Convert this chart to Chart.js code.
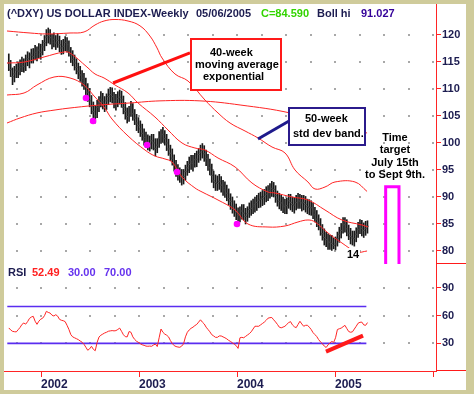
<!DOCTYPE html>
<html>
<head>
<meta charset="utf-8">
<script src="https://cdn.jsdelivr.net/npm/chart.js@4.4.0/dist/chart.umd.min.js"></script>
<style>
body { margin: 0; width: 474px; height: 394px; overflow: hidden; position: relative; background: #cfcb9b;
       font-family: "Liberation Sans", Arial, sans-serif; font-weight: bold; font-size: 11px; color: #1c1c50; }
#panel { position: absolute; left: 4px; top: 4px; width: 462px; height: 386px; background: #fff; }
canvas { position: absolute; left: 4px; }
.t { position: absolute; white-space: nowrap; line-height: 12px; }
.box { position: absolute; box-sizing: border-box; background: #fff; }
.rule { position: absolute; background: #ff1a1a; }
</style>
</head>
<body>
<div id="panel"></div>
<canvas id="price" width="462" height="260" style="top:4px"></canvas>
<canvas id="rsi" width="462" height="126" style="top:264px"></canvas>

<div class="rule" style="left:436px;top:263px;width:30px;height:1px"></div>
<div class="rule" style="left:436px;top:370px;width:30px;height:1px"></div>

<div class="t" style="left:7px;top:7px">(^DXY) US DOLLAR INDEX-Weekly</div>
<div class="t" style="left:196px;top:7px">05/06/2005</div>
<div class="t" style="left:261px;top:7px;color:#33d400">C=84.590</div>
<div class="t" style="left:317px;top:7px">Boll hi</div>
<div class="t" style="left:361px;top:7px;color:#330099">91.027</div>

<div class="box" style="left:190px;top:38px;width:92px;height:53px;border:2px solid #ff1a1a"></div>
<div class="t" style="left:210px;top:46px;color:#000">40-week</div>
<div class="t" style="left:195px;top:58px;color:#000">moving average</div>
<div class="t" style="left:203px;top:70px;color:#000">exponential</div>

<div class="box" style="left:288px;top:107px;width:78px;height:39px;border:2px solid #2b1b8c"></div>
<div class="t" style="left:305px;top:112px;color:#000">50-week</div>
<div class="t" style="left:293px;top:127px;color:#000">std dev band.</div>

<div class="t" style="left:355px;top:131px;width:80px;text-align:center;line-height:12.3px;color:#000">Time<br>target<br>July 15th<br>to Sept 9th.</div>

<div class="t" style="left:346px;top:248px;padding:0 1px;background:#fff;color:#000">14</div>

<div class="t" style="left:8px;top:266px">RSI</div>
<div class="t" style="left:32px;top:266px;color:#ff2020">52.49</div>
<div class="t" style="left:68px;top:266px;color:#6633ee">30.00</div>
<div class="t" style="left:104px;top:266px;color:#6633ee">70.00</div>

<script>
// weekly bars from the week of Sep 3 2001 to May 6 2005
var barHigh = [
  116.5,115.3,113.9,114.2,114.6,115.0,115.4,115.9,115.6,116.3,
  116.9,116.7,117.4,117.5,118.1,117.8,118.4,118.3,119.0,119.9,
  121.0,121.3,121.0,120.1,120.4,119.9,120.3,119.8,119.0,119.2,
  119.7,119.5,118.9,117.7,117.1,116.3,115.6,114.8,114.2,113.4,
  112.9,112.0,111.0,110.1,108.8,107.6,106.9,107.9,108.6,109.5,
  109.2,108.6,109.1,110.0,110.3,110.2,109.4,109.0,109.5,109.8,
  109.6,108.7,107.5,106.5,106.8,107.7,107.3,106.2,105.3,104.7,
  104.1,103.5,102.6,102.0,101.5,101.3,101.6,101.6,100.8,100.8,
  102.1,102.5,102.9,102.3,101.6,100.7,99.6,98.9,97.8,96.8,
  96.0,95.4,95.1,95.1,95.9,96.6,97.4,97.7,97.7,98.1,
  98.5,99.0,99.6,99.9,99.5,98.7,97.9,97.0,96.1,94.8,
  94.1,93.9,94.2,93.8,93.1,92.8,92.2,91.5,90.6,90.0,
  89.3,88.7,88.0,88.2,88.6,88.6,87.9,88.2,88.9,89.3,
  89.6,90.0,90.3,90.7,90.9,91.2,91.4,91.9,92.1,92.5,
  92.9,92.7,92.1,91.1,90.7,90.3,90.0,89.6,89.8,90.5,
  90.5,90.0,89.9,90.3,90.7,90.5,90.3,90.3,90.1,89.6,
  89.5,89.3,88.9,88.1,87.5,86.7,86.0,84.9,84.1,83.5,
  83.2,82.9,82.9,82.4,82.6,83.5,84.4,85.1,86.2,86.2,
  85.8,84.8,84.2,83.7,83.7,84.3,85.3,85.8,85.7,85.2,
  85.5,85.6
];
var barLow = [
  113.4,112.3,110.8,111.3,112.1,112.1,112.6,113.2,113.1,113.4,
  114.3,113.9,114.8,114.8,115.4,115.2,115.8,115.5,116.3,117.1,
  118.0,118.5,118.3,117.4,117.8,117.3,117.7,116.9,116.4,116.5,
  117.1,116.8,116.1,114.9,114.3,113.5,112.8,111.9,111.4,110.5,
  109.9,108.9,107.7,106.7,105.4,104.6,103.7,104.7,105.8,106.7,
  106.3,105.8,106.2,107.1,107.6,107.4,106.5,106.1,106.7,107.2,
  106.6,105.4,104.4,103.7,104.0,104.9,104.2,103.4,102.3,101.9,
  101.2,100.5,99.6,99.2,98.7,98.5,98.9,98.7,97.6,98.2,
  99.2,99.9,100.1,99.6,98.6,97.7,96.7,95.9,94.8,93.8,
  93.1,92.7,92.2,92.4,93.1,94.0,94.5,95.1,94.8,95.5,
  95.6,96.4,96.8,97.2,96.6,95.8,94.9,94.1,92.7,91.7,
  91.2,91.2,91.4,90.9,90.3,89.9,89.3,88.5,87.7,87.0,
  86.4,85.8,85.2,85.4,85.9,85.7,85.0,85.5,86.2,86.6,
  86.9,87.2,87.5,88.0,88.1,88.4,88.6,89.1,89.3,89.8,
  90.1,90.0,89.0,88.3,87.8,87.5,87.1,86.9,86.9,87.9,
  87.6,87.3,87.0,87.6,87.9,87.9,87.4,87.6,87.2,86.9,
  86.7,86.6,86.0,85.4,84.5,83.9,82.9,82.0,81.1,80.8,
  80.3,80.3,80.1,80.4,80.2,80.9,81.6,82.4,83.3,83.5,
  82.8,82.1,81.3,81.1,80.9,81.7,82.5,83.2,82.8,82.5,
  82.9,83.3
];
var barClose = [
  114.8,113.6,112.3,112.8,113.5,113.3,114.0,114.5,114.2,115.0,
  115.6,115.2,116.3,116.0,116.8,116.4,117.2,116.8,117.8,118.6,
  119.6,119.9,119.5,118.6,119.2,118.5,119.0,118.2,117.6,117.9,
  118.6,118.2,117.1,116.3,115.5,114.8,114.0,113.3,112.6,112.0,
  111.2,110.3,109.4,107.8,106.8,105.8,105.0,106.6,107.4,108.1,
  107.6,107.2,107.8,108.6,109.0,108.6,107.9,107.4,108.2,108.5,
  108.0,106.6,105.8,104.9,105.5,106.5,105.4,104.6,103.7,103.2,
  102.6,101.8,101.0,100.6,100.1,99.8,100.4,100.0,99.0,99.6,
  100.9,101.3,101.6,100.8,100.0,98.9,98.1,97.2,96.1,95.0,
  94.5,94.0,93.6,93.8,94.7,95.4,96.0,96.5,96.2,96.9,
  97.0,97.9,98.3,98.6,98.0,97.1,96.3,95.4,94.0,93.0,
  92.7,92.5,92.9,92.2,91.7,91.3,90.7,89.7,89.2,88.3,
  87.8,87.1,86.6,86.8,87.4,87.0,86.4,86.9,87.7,87.9,
  88.3,88.6,89.0,89.4,89.6,89.7,90.1,90.5,90.8,91.2,
  91.6,91.4,90.3,89.6,89.2,88.9,88.5,88.2,88.4,89.3,
  89.0,88.6,88.5,89.0,89.4,89.2,88.9,89.0,88.6,88.2,
  88.1,88.0,87.4,86.7,85.9,85.2,84.3,83.2,82.5,82.1,
  81.7,81.6,81.4,81.0,81.3,82.3,83.1,83.8,84.8,84.9,
  84.1,83.3,82.7,82.4,82.3,83.1,84.0,84.5,84.2,83.8,
  84.2,84.59
];
var rsiValues = [
  46.7,44.5,43.0,42.6,42.4,44.8,47.2,50.5,52.0,50.8,
  53.5,57.0,58.5,59.3,54.0,50.6,54.0,56.2,57.2,60.0,
  64.7,63.5,62.8,60.5,59.6,61.0,59.5,56.0,55.0,54.5,
  53.5,49.5,45.0,39.5,37.0,36.0,35.0,34.0,32.5,31.2,
  29.0,25.8,22.5,24.0,26.8,23.5,22.0,31.0,36.8,38.8,
  40.0,41.2,42.0,43.1,43.5,43.8,43.5,43.8,45.0,46.5,
  43.0,39.3,37.2,37.0,42.8,42.0,37.0,34.2,32.2,31.0,
  29.5,28.4,27.8,27.0,26.8,27.0,26.8,28.2,29.2,26.5,
  36.0,45.5,42.0,40.0,38.8,37.0,33.0,29.8,27.5,26.5,
  26.0,25.7,27.0,29.5,37.0,42.0,44.5,46.3,47.5,49.2,
  50.5,53.0,55.5,53.0,51.0,47.5,45.0,42.5,39.4,38.0,
  36.5,36.5,38.0,38.0,37.0,36.0,34.8,33.2,32.0,30.5,
  29.0,27.5,24.5,36.0,36.5,36.0,37.5,39.0,40.5,42.5,
  45.5,48.5,48.5,48.5,50.0,51.5,53.0,55.0,57.3,57.8,
  58.0,55.5,53.2,50.5,47.5,46.8,47.6,48.5,50.5,52.5,
  53.5,50.0,48.0,47.0,50.5,53.9,51.0,48.5,49.5,49.6,
  47.5,45.0,41.6,39.5,37.3,34.0,31.5,29.5,27.0,25.5,
  28.3,30.5,32.0,31.0,36.0,45.0,45.8,46.5,48.0,49.5,
  46.0,42.8,42.0,42.5,45.5,48.5,51.8,52.8,53.0,50.0,
  49.5,52.49
];

// curves, x in decimal years
var upperX = [2001.653,2001.888,2002.061,2002.296,2002.439,2002.551,2002.643,2002.755,2002.888,2003.010,2003.112,2003.184,2003.235,2003.367,2003.500,2003.673,2003.806,2003.929,2004.082,2004.214,2004.357,2004.490,2004.592,2004.724,2004.796,2004.898,2005.000,2005.204,2005.327];
var upperY = [120.74,120.37,120.19,120.37,120.56,121.85,122.59,122.87,122.59,121.70,119.80,117.60,115.74,112.78,111.48,107.96,105.56,103.70,102.22,100.93,99.26,98.15,95.00,92.78,91.48,91.85,92.78,92.78,91.03];
var midX = [2001.653,2001.827,2002.031,2002.235,2002.296,2002.469,2002.551,2002.643,2002.755,2002.888,2002.990,2003.163,2003.296,2003.439,2003.571,2003.673,2003.806,2003.980,2004.153,2004.316,2004.388,2004.561,2004.724,2004.898,2005.071,2005.276,2005.337];
var midY = [114.81,114.99,115.93,116.85,116.67,114.07,112.78,112.04,110.74,109.26,107.41,104.81,102.41,100.00,99.07,98.70,97.22,95.56,92.59,90.93,90.74,90.00,89.44,87.59,85.74,84.81,84.44];
var lowerX = [2001.653,2001.827,2001.959,2002.133,2002.296,2002.439,2002.541,2002.643,2002.724,2002.888,2003.061,2003.163,2003.265,2003.337,2003.439,2003.571,2003.643,2003.806,2003.980,2004.112,2004.316,2004.490,2004.622,2004.724,2004.796,2004.929,2005.071,2005.224,2005.327];
var lowerY = [108.89,109.26,110.74,112.22,112.04,110.74,108.70,106.67,104.44,101.30,98.70,97.59,97.04,96.48,93.70,91.67,90.93,89.44,87.59,85.00,84.44,84.63,85.37,85.74,85.37,83.33,81.48,79.81,80.00];
var longX = [2001.653,2001.786,2001.959,2002.143,2002.296,2002.602,2002.908,2003.214,2003.622,2004.031,2004.541,2005.327];
var longY = [103.70,104.63,105.56,106.11,106.48,107.04,107.41,107.80,107.80,107.04,105.56,101.85];

var dotX = [2002.459,2002.531,2003.082,2003.388,2004.000];
var dotY = [108.33,104.07,99.63,94.63,85.00];

var arrowRedX = [2002.735,2003.520], arrowRedY = [111.11,116.67];
var arrowBlueX = [2004.214,2004.531], arrowBlueY = [100.74,104.07];
var targetX = [2005.517,2005.517,2005.653,2005.653], targetY = [77.0,91.9,91.9,77.0];

var rsiTrendX = [2004.908,2005.286], rsiTrendY = [21.0,38.4];
var rsiLevelX = [2001.656,2005.320];

var priceTicks = [80,85,90,95,100,105,110,115,120];
var rsiTicks = [30,60,90];
var yearTicks = [2002,2003,2004,2005,2006];

function toYear(d) {
    var y = d.getFullYear();
    var s = new Date(y, 0, 1), e = new Date(y + 1, 0, 1);
    return y + (d - s) / (e - s);
}
var weekX = barClose.map(function (_, i) { return toYear(new Date(2001, 8, 3 + 7 * i)); });

function pts(xs, ys) { return xs.map(function (x, i) { return { x: x, y: ys[i] }; }); }

var RED = '#ff2424';
var NAVY = '#1c1c50';
var X_MIN = 2001.6224, X_MAX = 2006.0306;

// grey dots at the grid crossings, one column per quarter
var dotGrid = {
    id: 'dotGrid',
    beforeDatasetsDraw: function (chart, args, opts) {
        var ctx = chart.ctx, x = chart.scales.x, y = chart.scales.y;
        ctx.save();
        ctx.fillStyle = '#a8a8a8';
        for (var q = 2001.75; q <= 2006.001; q += 0.25) {
            var px = Math.round(x.getPixelForValue(q));
            opts.rows.forEach(function (v) {
                var py = Math.round(y.getPixelForValue(v));
                ctx.fillRect(px - 1, py - 1, 2, 2);
            });
        }
        ctx.restore();
    }
};

// right axis of fixed width, no extra room for the end labels
function fitRight(s) {
    s.width = 30;
    s.paddingTop = 0;
    s.paddingBottom = 0;
}

function curve(xs, ys) {
    return { type: 'line', data: pts(xs, ys), borderColor: RED, borderWidth: 1, pointRadius: 0, tension: 0.4, fill: false };
}
function stroke(xs, ys, color, w) {
    return { type: 'line', data: pts(xs, ys), borderColor: color, borderWidth: w, pointRadius: 0, tension: 0, fill: false };
}

var yFont = { family: 'Liberation Sans, Arial', size: 11, weight: 'bold' };

new Chart(document.getElementById('price'), {
    type: 'line',
    data: {
        datasets: [
            { type: 'line', data: pts(dotX, dotY), showLine: false, pointRadius: 3.3, pointBackgroundColor: '#ff00ff', pointBorderWidth: 0 },
            stroke(arrowRedX, arrowRedY, '#ff1010', 3),
            stroke(arrowBlueX, arrowBlueY, '#1e1a8c', 3),
            stroke(targetX, targetY, '#ff00ff', 3),
            curve(upperX, upperY),
            curve(midX, midY),
            curve(lowerX, lowerY),
            curve(longX, longY),
            { type: 'line', data: pts(weekX, barClose), showLine: false, pointStyle: 'line', pointRadius: 1.3, pointBorderWidth: 1, pointBorderColor: '#444' },
            { type: 'bar', data: weekX.map(function (x, i) { return { x: x, y: [barLow[i], barHigh[i]] }; }),
              backgroundColor: '#1a1a1a', barThickness: 1 }
        ]
    },
    options: {
        responsive: false, animation: false, events: [], devicePixelRatio: 1,
        layout: { padding: 0, autoPadding: false },
        plugins: { legend: { display: false }, tooltip: { enabled: false }, dotGrid: { rows: priceTicks } },
        scales: {
            x: { type: 'linear', min: X_MIN, max: X_MAX, offset: false, display: false },
            y: {
                position: 'right', min: 77.59, max: 125.74,
                afterBuildTicks: function (s) { s.ticks = priceTicks.map(function (v) { return { value: v }; }); },
                afterFit: fitRight,
                grid: { drawOnChartArea: false, tickLength: 5, color: RED },
                border: { color: RED, width: 1 },
                ticks: { padding: 1, color: NAVY, font: yFont }
            }
        }
    },
    plugins: [dotGrid]
});

new Chart(document.getElementById('rsi'), {
    type: 'line',
    data: {
        datasets: [
            stroke(rsiTrendX, rsiTrendY, '#ff1a1a', 4),
            { type: 'line', data: pts(weekX, rsiValues), borderColor: RED, borderWidth: 1, pointRadius: 0, tension: 0, fill: false },
            stroke(rsiLevelX, [70, 70], '#5a2df0', 1.6),
            stroke(rsiLevelX, [30, 30], '#5a2df0', 1.6)
        ]
    },
    options: {
        responsive: false, animation: false, events: [], devicePixelRatio: 1,
        layout: { padding: 0, autoPadding: false },
        plugins: { legend: { display: false }, tooltip: { enabled: false }, dotGrid: { rows: rsiTicks } },
        scales: {
            x: {
                type: 'linear', min: X_MIN, max: X_MAX, offset: false, position: 'bottom',
                afterBuildTicks: function (s) { s.ticks = yearTicks.map(function (v) { return { value: v }; }); },
                afterFit: function (s) { s.height = 19; s.paddingLeft = 0; s.paddingRight = 0; },
                grid: { drawOnChartArea: false, tickLength: 6, color: RED },
                border: { color: RED, width: 1 },
                ticks: {
                    align: 'start', padding: 0, maxRotation: 0, autoSkip: false, color: NAVY,
                    font: { family: 'Liberation Sans, Arial', size: 12, weight: 'bold' },
                    callback: function (v) { return v === 2006 ? '' : String(v); }
                }
            },
            y: {
                position: 'right', min: 0, max: 116,
                afterBuildTicks: function (s) { s.ticks = rsiTicks.map(function (v) { return { value: v }; }); },
                afterFit: fitRight,
                grid: { drawOnChartArea: false, tickLength: 5, color: RED },
                border: { color: RED, width: 1 },
                ticks: { padding: 1, color: NAVY, font: yFont }
            }
        }
    },
    plugins: [dotGrid]
});
</script>
</body>
</html>
